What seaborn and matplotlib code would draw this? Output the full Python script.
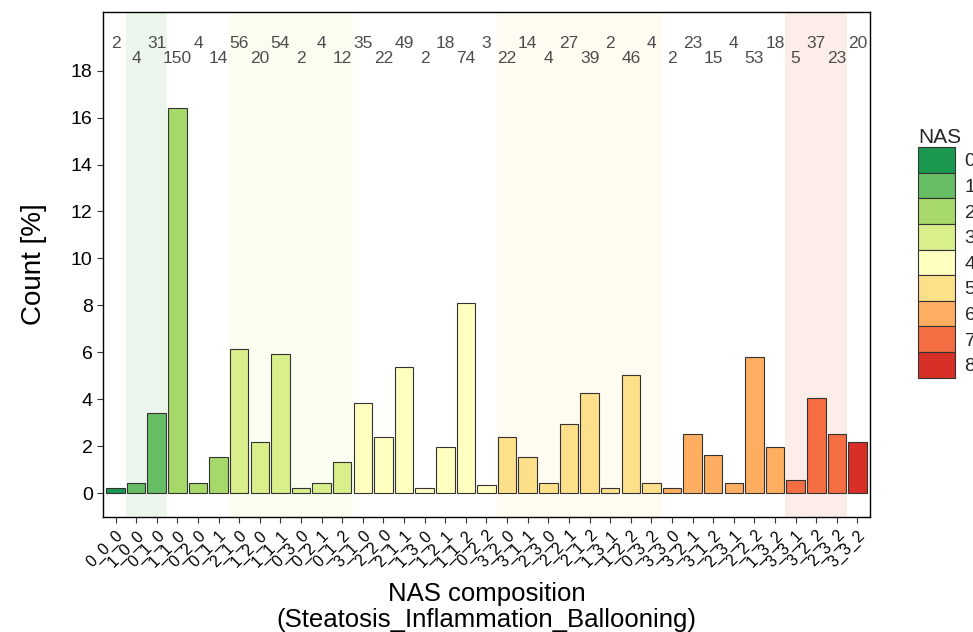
import seaborn as sns
import matplotlib.pyplot as plt
import matplotlib.patches as mpatches
import pandas as pd

# NAS composition (Steatosis_Inflammation_Ballooning)
compositions = ["0_0_0", "1_0_0", "0_1_0", "1_1_0", "0_2_0", "0_1_1",
                "2_1_0", "1_2_0", "1_1_1", "0_3_0", "0_2_1", "0_1_2",
                "3_1_0", "2_2_0", "2_1_1", "1_3_0", "1_2_1", "1_1_2", "0_2_2",
                "3_2_0", "3_1_1", "2_3_0", "2_2_1", "2_1_2", "1_3_1", "1_2_2", "0_3_2",
                "3_3_0", "3_2_1", "3_1_2", "2_3_1", "2_2_2", "1_3_2",
                "3_3_1", "3_2_2", "2_3_2", "3_3_2"]
counts = [2, 4, 31, 150, 4, 14, 56, 20, 54, 2, 4, 12, 35, 22, 49, 2, 18, 74, 3,
          22, 14, 4, 27, 39, 2, 46, 4, 2, 23, 15, 4, 53, 18, 5, 37, 23, 20]
nas_colors = ["#1a9850", "#66bd63", "#a6d96a", "#d9ef8b", "#ffffbf",
              "#fee08b", "#fdae61", "#f46d43", "#d73027"]
shaded_nas = [1, 3, 5, 7]

df = pd.DataFrame({"comp": compositions, "n": counts})
df["NAS"] = df.comp.apply(lambda s: sum(int(c) for c in s.split("_")))
df["pct"] = df.n / df.n.sum() * 100

sns.set_style("white")
plt.rcParams['font.family'] = ['Liberation Sans', 'DejaVu Sans']

fig = plt.figure(figsize=(9.73, 6.32), dpi=100)
ax = fig.add_axes([0.106, 0.182, 0.788, 0.799])

# background bands for alternating NAS groups
for k in shaded_nas:
    idx = df.index[df.NAS == k]
    ax.axvspan(idx.min() - 0.5, idx.max() + 0.5, color=nas_colors[k], alpha=0.12, lw=0, zorder=0)

sns.barplot(data=df, x="comp", y="pct", hue="NAS", palette=nas_colors, dodge=False,
            saturation=1, width=0.9, edgecolor="#333333", linewidth=0.8, legend=False,
            ax=ax, zorder=2)

# counts on top, staggered
for i, n in enumerate(df.n):
    y = 19.15 if i % 2 == 0 else 18.5
    ax.text(i, y, str(n), ha="center", va="center", fontsize=12.5, color="#4d4d4d")

ax.set_xlim(-0.6, len(df) - 0.4)
ax.set_ylim(-1.02, 20.5)
ax.set_yticks(range(0, 19, 2))
ax.tick_params(axis="y", labelsize=14, length=4, width=0.8, color="#333333", left=True,
               labelcolor="black")
ax.tick_params(axis="x", labelsize=11.5, length=4, width=0.8, color="#333333", bottom=True,
               labelcolor="black")
plt.setp(ax.get_xticklabels(), rotation=45, ha="right", rotation_mode="anchor")
for sp in ax.spines.values():
    sp.set_color("black")
    sp.set_linewidth(1)

ax.set_ylabel("Count [%]", fontsize=20, labelpad=17, color="black")
ax.set_xlabel("NAS composition\n(Steatosis_Inflammation_Ballooning)", fontsize=18.5,
              labelpad=9, color="black", linespacing=1.1)

handles = [mpatches.Patch(facecolor=c, edgecolor="#333333", linewidth=0.8, label=str(k))
           for k, c in enumerate(nas_colors)]
leg = ax.legend(handles=handles, title="NAS", loc="upper left", bbox_to_anchor=(1.0626, 0.77),
                frameon=False, fontsize=14, title_fontsize=15, handlelength=1.9,
                handleheight=1.65, labelspacing=0.0, handletextpad=0.5, borderaxespad=0,
                borderpad=0)
leg._legend_box.align = "left"

fig.savefig("out.png", dpi=100)
